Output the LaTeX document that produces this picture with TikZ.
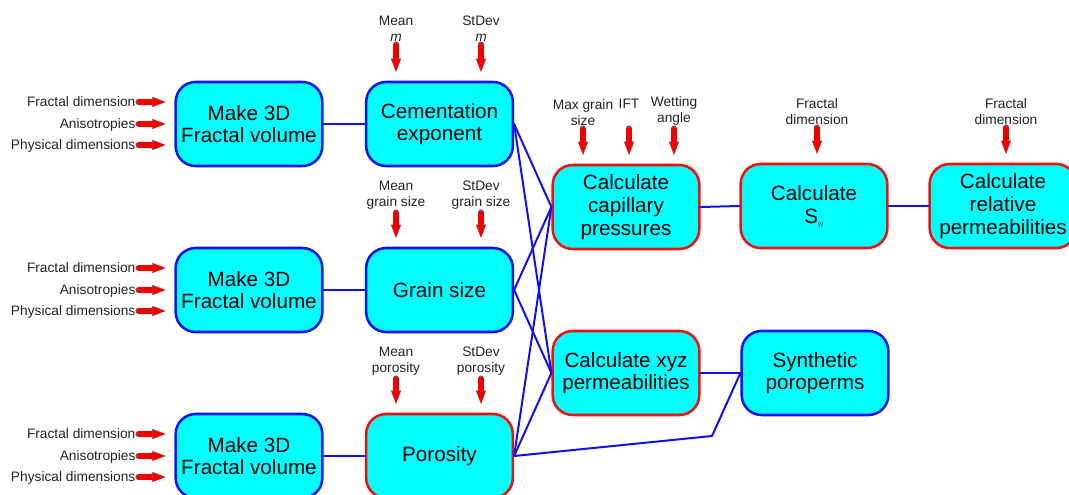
\documentclass[tikz,border=0pt]{standalone}
\usepackage{fontspec}
\setmainfont{Liberation Sans}
\usepackage{tikz}
\usetikzlibrary{arrows.meta,calc}
\definecolor{boxfill}{HTML}{00FFFF}
\definecolor{edgeblue}{HTML}{0A14F0}
\definecolor{edgered}{HTML}{F01010}
\definecolor{linkblue}{HTML}{1010F0}
\definecolor{feedred}{HTML}{F00000}
\definecolor{feededge}{HTML}{A83838}
\definecolor{labtext}{HTML}{222222}
\tikzset{
  every picture/.style={line cap=round, line join=round},
  procbox/.style={rectangle, rounded corners=15pt, minimum width=110pt, minimum height=63pt,
    fill=boxfill, draw=edgeblue, line width=1.9pt, align=center, inner sep=0pt,
    font=\fontsize{15.5}{17}\selectfont},
  keybox/.style={procbox, draw=edgered},
  link/.style={draw=linkblue, line width=1.5pt},
  feed/.style={draw=feedred, line width=3.8pt, line cap=butt,
    -{Triangle[length=10pt, width=7.5pt, line width=0.3pt, color=feededge, fill=feedred]},
    shorten >=6.5pt, shorten <=1pt,
    preaction={draw=feededge, line width=4.3pt, arrows=-, shorten >=14pt}},
  inlab/.style={text=labtext, align=center, inner sep=1pt, font=\fontsize{10.3}{12}\selectfont},
  sidelab/.style={inlab, anchor=east, text height=1.5ex, text depth=0.3ex}
}

\begin{document}
\begin{tikzpicture}[x=0.75pt, y=-0.75pt]
  \useasboundingbox (0,0) rectangle (1069,495);

  % fractal volumes and their property boxes
  \node[procbox] (fv1) at (249,124) {Make 3D\\Fractal volume};
  \node[procbox] (fv2) at (249,290) {Make 3D\\Fractal volume};
  \node[procbox] (fv3) at (249,456) {Make 3D\\Fractal volume};
  \node[procbox] (cem) at (439.5,124) {Cementation\\exponent};
  \node[procbox] (grain) at (439.5,290) {Grain size};
  \node[keybox] (por) at (439.5,456) {Porosity};

  % calculations
  \node[keybox] (cap) at (626,207) {Calculate\\capillary\\pressures};
  \node[keybox] (xyz) at (626,373) {Calculate xyz\\permeabilities};
  \node[keybox] (sw) at (814,206) {Calculate\\S\textsubscript{\tiny w}};
  \node[keybox] (rel) at (1003,206) {Calculate\\relative\\permeabilities};
  \node[procbox] (syn) at (815,373) {Synthetic\\poroperms};

  % side inputs of the fractal volumes
  \foreach \r/\yy in {1/124, 2/290, 3/456} {
    \node[sidelab] (fd\r) at (137,\yy-22) {Fractal dimension};
    \node[sidelab] (an\r) at (137,\yy) {Anisotropies};
    \node[sidelab] (pd\r) at (137,\yy+21) {Physical dimensions};
    \foreach \n in {fd,an,pd}
      \draw[feed] (\n\r.east) -- (\n\r.east -| fv\r.west);
  }

  % top inputs
  \node[inlab, anchor=south] (mm) at (396,43) {Mean\\\textit{m}};
  \node[inlab, anchor=south] (sm) at (481,43) {StDev\\\textit{m}};
  \node[inlab, anchor=south] (mg) at (396,211) {Mean\\grain size};
  \node[inlab, anchor=south] (sg) at (481,211) {StDev\\grain size};
  \node[inlab, anchor=south] (mp) at (396,377) {Mean\\porosity};
  \node[inlab, anchor=south] (sp) at (481,377) {StDev\\porosity};
  \node[inlab, anchor=south] (mgs) at (583,127) {Max grain\\size};
  \path (mgs.north) ++(46,0) node[inlab, anchor=north] (ift) {IFT};
  \node[inlab, anchor=south] (wa) at (674,127) {Wetting\\angle};
  \node[inlab, anchor=south] (fds) at (817,126) {Fractal\\dimension};
  \node[inlab, anchor=south] (fdr) at (1006,126) {Fractal\\dimension};

  \draw[feed] (mm.south) -- (mm.south |- cem.north);
  \draw[feed] (sm.south) -- (sm.south |- cem.north);
  \draw[feed] (mg.south) -- (mg.south |- grain.north);
  \draw[feed] (sg.south) -- (sg.south |- grain.north);
  \draw[feed] (mp.south) -- (mp.south |- por.north);
  \draw[feed] (sp.south) -- (sp.south |- por.north);
  \draw[feed] (mgs.south) -- (mgs.south |- cap.north);
  \draw[feed] (ift |- mgs.south) -- (ift |- cap.north);
  \draw[feed] (wa.south) -- (wa.south |- cap.north);
  \draw[feed] (fds.south) -- (fds.south |- sw.north);
  \draw[feed] (fdr.south) -- (fdr.south |- rel.north);

  % links
  \draw[link] (fv1.east) -- (cem.west);
  \draw[link] (fv2.east) -- (grain.west);
  \draw[link] (fv3.east) -- (por.west);
  \foreach \s in {cem,grain,por} {
    \draw[link] (\s.east) -- (cap.west);
    \draw[link] (\s.east) -- (xyz.west);
  }
  \coordinate (bend) at (712,436);
  \draw[link] (por.east) -- (bend) -- (syn.west);
  \draw[link] (xyz.east) -- (syn.west);
  \draw[link] (cap.east) -- (sw.west);
  \draw[link] (sw.east) -- (rel.west);
\end{tikzpicture}
\end{document}
